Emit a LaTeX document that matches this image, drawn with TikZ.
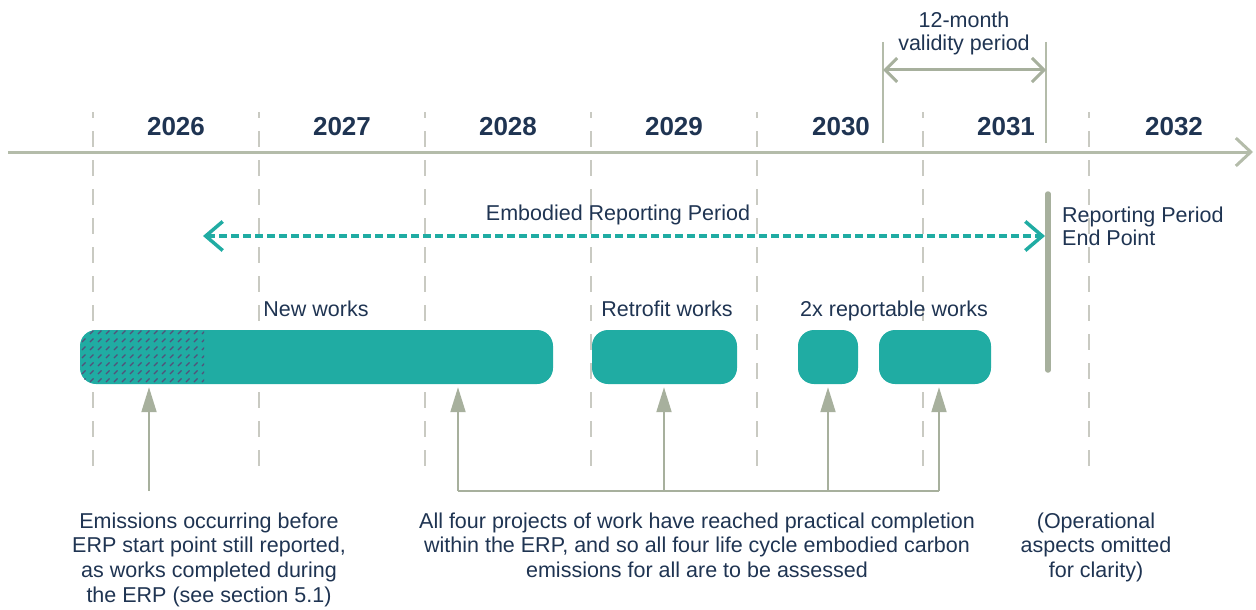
\documentclass[tikz,border=0pt]{standalone}
\usepackage{fontspec}
\setmainfont{Liberation Sans}
\usetikzlibrary{arrows.meta}
\definecolor{navy}{HTML}{1F3452}
\definecolor{sage}{HTML}{A7B09D}
\definecolor{sagel}{HTML}{B4BCAA}
\definecolor{gridc}{HTML}{C9CAC2}
\definecolor{erpteal}{HTML}{20ACA3}
\definecolor{hatchc}{HTML}{54507A}
\begin{document}
\begin{tikzpicture}[x=1pt,y=-1pt,
  gridline/.style={draw=gridc, line width=1.4pt, dash pattern=on 16pt off 13pt, dash phase=10pt},
  axisline/.style={draw=sagel, line width=3pt, -{Straight Barb[length=15pt,width=28pt,line width=3pt]}},
  yearlbl/.style={font=\fontsize{26}{30}\selectfont\bfseries, text=navy, anchor=base, inner sep=0pt},
  lbl/.style={font=\fontsize{21.5}{24.7}\selectfont, text=navy, anchor=base, inner sep=0pt},
  blocktxt/.style={lbl, align=center, anchor=north},
  vline/.style={draw=sagel, line width=2pt},
  valarrow/.style={draw=sage, line width=3pt, {Straight Barb[length=12pt,width=24pt,line width=3pt]}-{Straight Barb[length=12pt,width=24pt,line width=3pt]}},
  endline/.style={draw=sage, line width=5.5pt, line cap=round},
  erp/.style={draw=erpteal, line width=3.5pt, dash pattern=on 8pt off 4pt, {Straight Barb[length=17pt,width=29pt,line width=3.5pt]}-{Straight Barb[length=17pt,width=29pt,line width=3.5pt]}},
  bar/.style={fill=erpteal, rounded corners=16pt, minimum height=54pt, inner sep=0pt},
  hatch/.style={draw=hatchc, line width=1.2pt, dash pattern=on 5pt off 6.3pt},
  upar/.style={draw=sage, line width=2pt, -{Triangle[length=25pt,width=15pt]}, fill=sage},
  bracket/.style={draw=sage, line width=2pt}
]
\useasboundingbox (0,0) rectangle (1256,610);

% grid dashed lines
\foreach \k in {0,...,6}{
  \coordinate (gt\k) at (93+166*\k,112);
  \coordinate (gb\k) at (93+166*\k,478);
  \draw[gridline] (gt\k) -- (gb\k);
}

% axis
\coordinate (ax0) at (8,152);
\coordinate (ax1) at (1253,152);
\draw[axisline] (ax0) -- (ax1);

% years
\node[yearlbl] (y2026) at (176,135) {2026};
\node[yearlbl] (y2027) at (342,135) {2027};
\node[yearlbl] (y2028) at (508,135) {2028};
\node[yearlbl] (y2029) at (674,135) {2029};
\node[yearlbl] (y2030) at (841,135) {2030};
\node[yearlbl] (y2031) at (1006,135) {2031};
\node[yearlbl] (y2032) at (1174,135) {2032};

% validity period
\coordinate (v1t) at (883,42);
\coordinate (v1b) at (883,143);
\coordinate (v2t) at (1046,42);
\coordinate (v2b) at (1046,143);
\draw[vline] (v1t) -- (v1b);
\draw[vline] (v2t) -- (v2b);
\coordinate (va1) at (883,70);
\coordinate (va2) at (1046,70);
\draw[valarrow] (va1) -- (va2);
\node[blocktxt, font=\fontsize{21.5}{23}\selectfont] (valtxt) at (964,11.3) {12-month\\validity period};

% reporting period end point
\coordinate (rpt) at (1048,194);
\coordinate (rpb) at (1048,370);
\draw[endline] (rpt) -- (rpb);
\node[lbl, align=left, anchor=north west, font=\fontsize{21.5}{23}\selectfont] (rptxt) at (1062,206.3) {Reporting Period\\End Point};

% ERP arrow
\coordinate (erpL) at (203,236);
\coordinate (erpR) at (1045,236);
\draw[erp] (erpL) -- (erpR);
\node[lbl] (erptxt) at (618,220) {Embodied Reporting Period};

% bars
\node[bar, minimum width=473pt] (nw) at (316.5,357) {};
\node[bar, minimum width=145pt] (rf) at (664.5,357) {};
\node[bar, minimum width=60pt] (s1) at (828,357) {};
\node[bar, minimum width=112pt] (s2) at (935,357) {};

% hatch on new works
\begin{scope}
  \clip[rounded corners=16pt] (nw.north west) rectangle (nw.south east);
  \clip (nw.north west) rectangle (204,384);
  \foreach \i in {0,...,26}{
    \draw[hatch] (10+8*\i,390) -- ++(70,-70);
  }
\end{scope}

% bar labels
\node[lbl] (nwtxt) at (316,316) {New works};
\node[lbl] (rftxt) at (667,316) {Retrofit works};
\node[lbl] (s2txt) at (894,316) {2x reportable works};

% up arrows
\coordinate (u1) at (149,491);
\coordinate (u2) at (458,491);
\coordinate (u3) at (664,491);
\coordinate (u4) at (828,491);
\coordinate (u5) at (939,491);
\draw[upar, shorten >=3pt] (u1) -- (u1 |- nw.south);
\draw[upar, shorten >=3pt] (u2) -- (u2 |- nw.south);
\draw[upar, shorten >=3pt] (u3) -- (u3 |- rf.south);
\draw[upar, shorten >=3pt] (u4) -- (u4 |- s1.south);
\draw[upar, shorten >=3pt] (u5) -- (u5 |- s2.south);
\draw[bracket] (u2) -- (u5);

% bottom texts
\node[blocktxt] (lefttxt) at (209,512.3) {Emissions occurring before\\ERP start point still reported,\\as works completed during\\the ERP (see section 5.1)};
\node[blocktxt] (midtxt) at (697,512.3) {All four projects of work have reached practical completion\\within the ERP, and so all four life cycle embodied carbon\\emissions for all are to be assessed};
\node[blocktxt] (righttxt) at (1096,512.3) {(Operational\\aspects omitted\\for clarity)};
\end{tikzpicture}
\end{document}
